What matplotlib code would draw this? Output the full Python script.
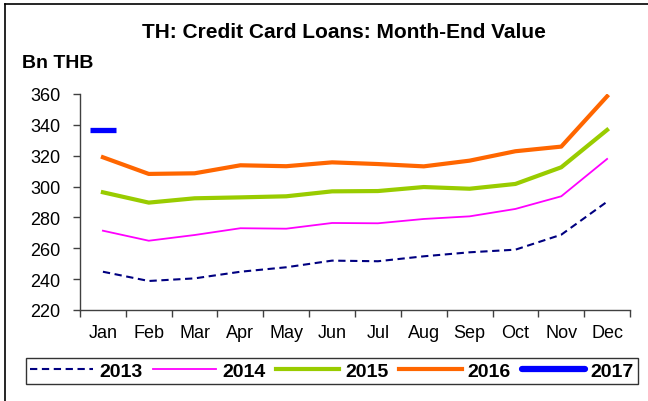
import matplotlib
matplotlib.use("Agg")
import matplotlib.pyplot as plt
from matplotlib.lines import Line2D

plt.rcParams['font.family'] = ['Liberation Sans', 'DejaVu Sans']

months = ["Jan", "Feb", "Mar", "Apr", "May", "Jun",
          "Jul", "Aug", "Sep", "Oct", "Nov", "Dec"]

v2013 = [244.8, 238.8, 240.5, 244.8, 247.7, 252.0, 251.6, 254.8, 257.4, 259.1, 268.8, 290.2]
v2014 = [271.4, 264.9, 268.6, 273.0, 272.7, 276.4, 276.2, 279.0, 280.7, 285.5, 293.7, 317.9]
v2015 = [296.3, 289.6, 292.4, 293.0, 293.7, 296.9, 297.1, 299.7, 298.6, 301.7, 312.5, 336.7]
v2016 = [319.0, 308.2, 308.6, 313.8, 313.2, 315.7, 314.6, 313.1, 316.8, 322.9, 325.9, 358.5]
v2017 = [336.9]

W, H = 648, 402
fig = plt.figure(figsize=(W / 100, H / 100), dpi=100)
ax = fig.add_axes([80 / W, 1 - 311 / H, 550 / W, 216 / H])

x = list(range(len(months)))
ax.plot(x, v2013, color="#000080", lw=1.5, ls=(0, (3.5, 2.2)))
ax.plot(x, v2014, color="#FF00FF", lw=1.3)
ax.plot(x, v2015, color="#99CC00", lw=3.0)
ax.plot(x, v2016, color="#FF6600", lw=3.0)
ax.plot(x[:len(v2017)], v2017, color="#0000FF", lw=0, marker="_",
        markersize=19, markeredgewidth=3.8)

ax.set_ylim(220, 360)
ax.set_xlim(-0.5, 11.5)
ax.set_yticks(range(220, 361, 20))
ax.set_xticks([i - 0.5 for i in range(13)])
ax.set_xticklabels([])
ax.set_xticks(x, minor=True)
ax.set_xticklabels(months, minor=True)
ax.tick_params(axis="x", which="minor", length=0, pad=10, labelsize=13)
ax.tick_params(axis="x", which="major", length=5, width=1, color="#404040")
ax.tick_params(axis="y", length=5, width=1, color="#404040", labelsize=13, pad=9)
for s in ["top", "right"]:
    ax.spines[s].set_visible(False)
for s in ["left", "bottom"]:
    ax.spines[s].set_color("#404040")
    ax.spines[s].set_linewidth(1)

fig.text(344 / W, 1 - 32 / H, "TH: Credit Card Loans: Month-End Value",
         ha="center", va="center", fontsize=15, fontweight="bold")
fig.text(22 / W, 1 - 63 / H, "Bn THB", ha="left", va="center",
         fontsize=14, fontweight="bold")

handles = [
    Line2D([], [], color="#000080", lw=1.5, ls=(0, (3.5, 2.2))),
    Line2D([], [], color="#FF00FF", lw=1.3),
    Line2D([], [], color="#99CC00", lw=3.0),
    Line2D([], [], color="#FF6600", lw=3.0),
    Line2D([], [], color="#0000FF", lw=4.5, solid_capstyle="round"),
]
leg = fig.legend(handles, ["2013", "2014", "2015", "2016", "2017"],
                 loc="center", bbox_to_anchor=(332 / W, 1 - 372 / H),
                 ncol=5, frameon=True, fancybox=False, edgecolor="black",
                 handlelength=3.25, handletextpad=0.3, columnspacing=0.55,
                 borderpad=0.2, borderaxespad=0,
                 prop={"size": 14, "weight": "bold"})
leg.get_frame().set_linewidth(1)

# outer border of the chart area
fig.add_artist(Line2D([5 / W, 5 / W], [0, 1 - 5 / H], color="black", lw=1.2))
fig.add_artist(Line2D([5 / W, 1], [1 - 5 / H, 1 - 5 / H], color="black", lw=1.2))

fig.savefig("out.png", dpi=100)
